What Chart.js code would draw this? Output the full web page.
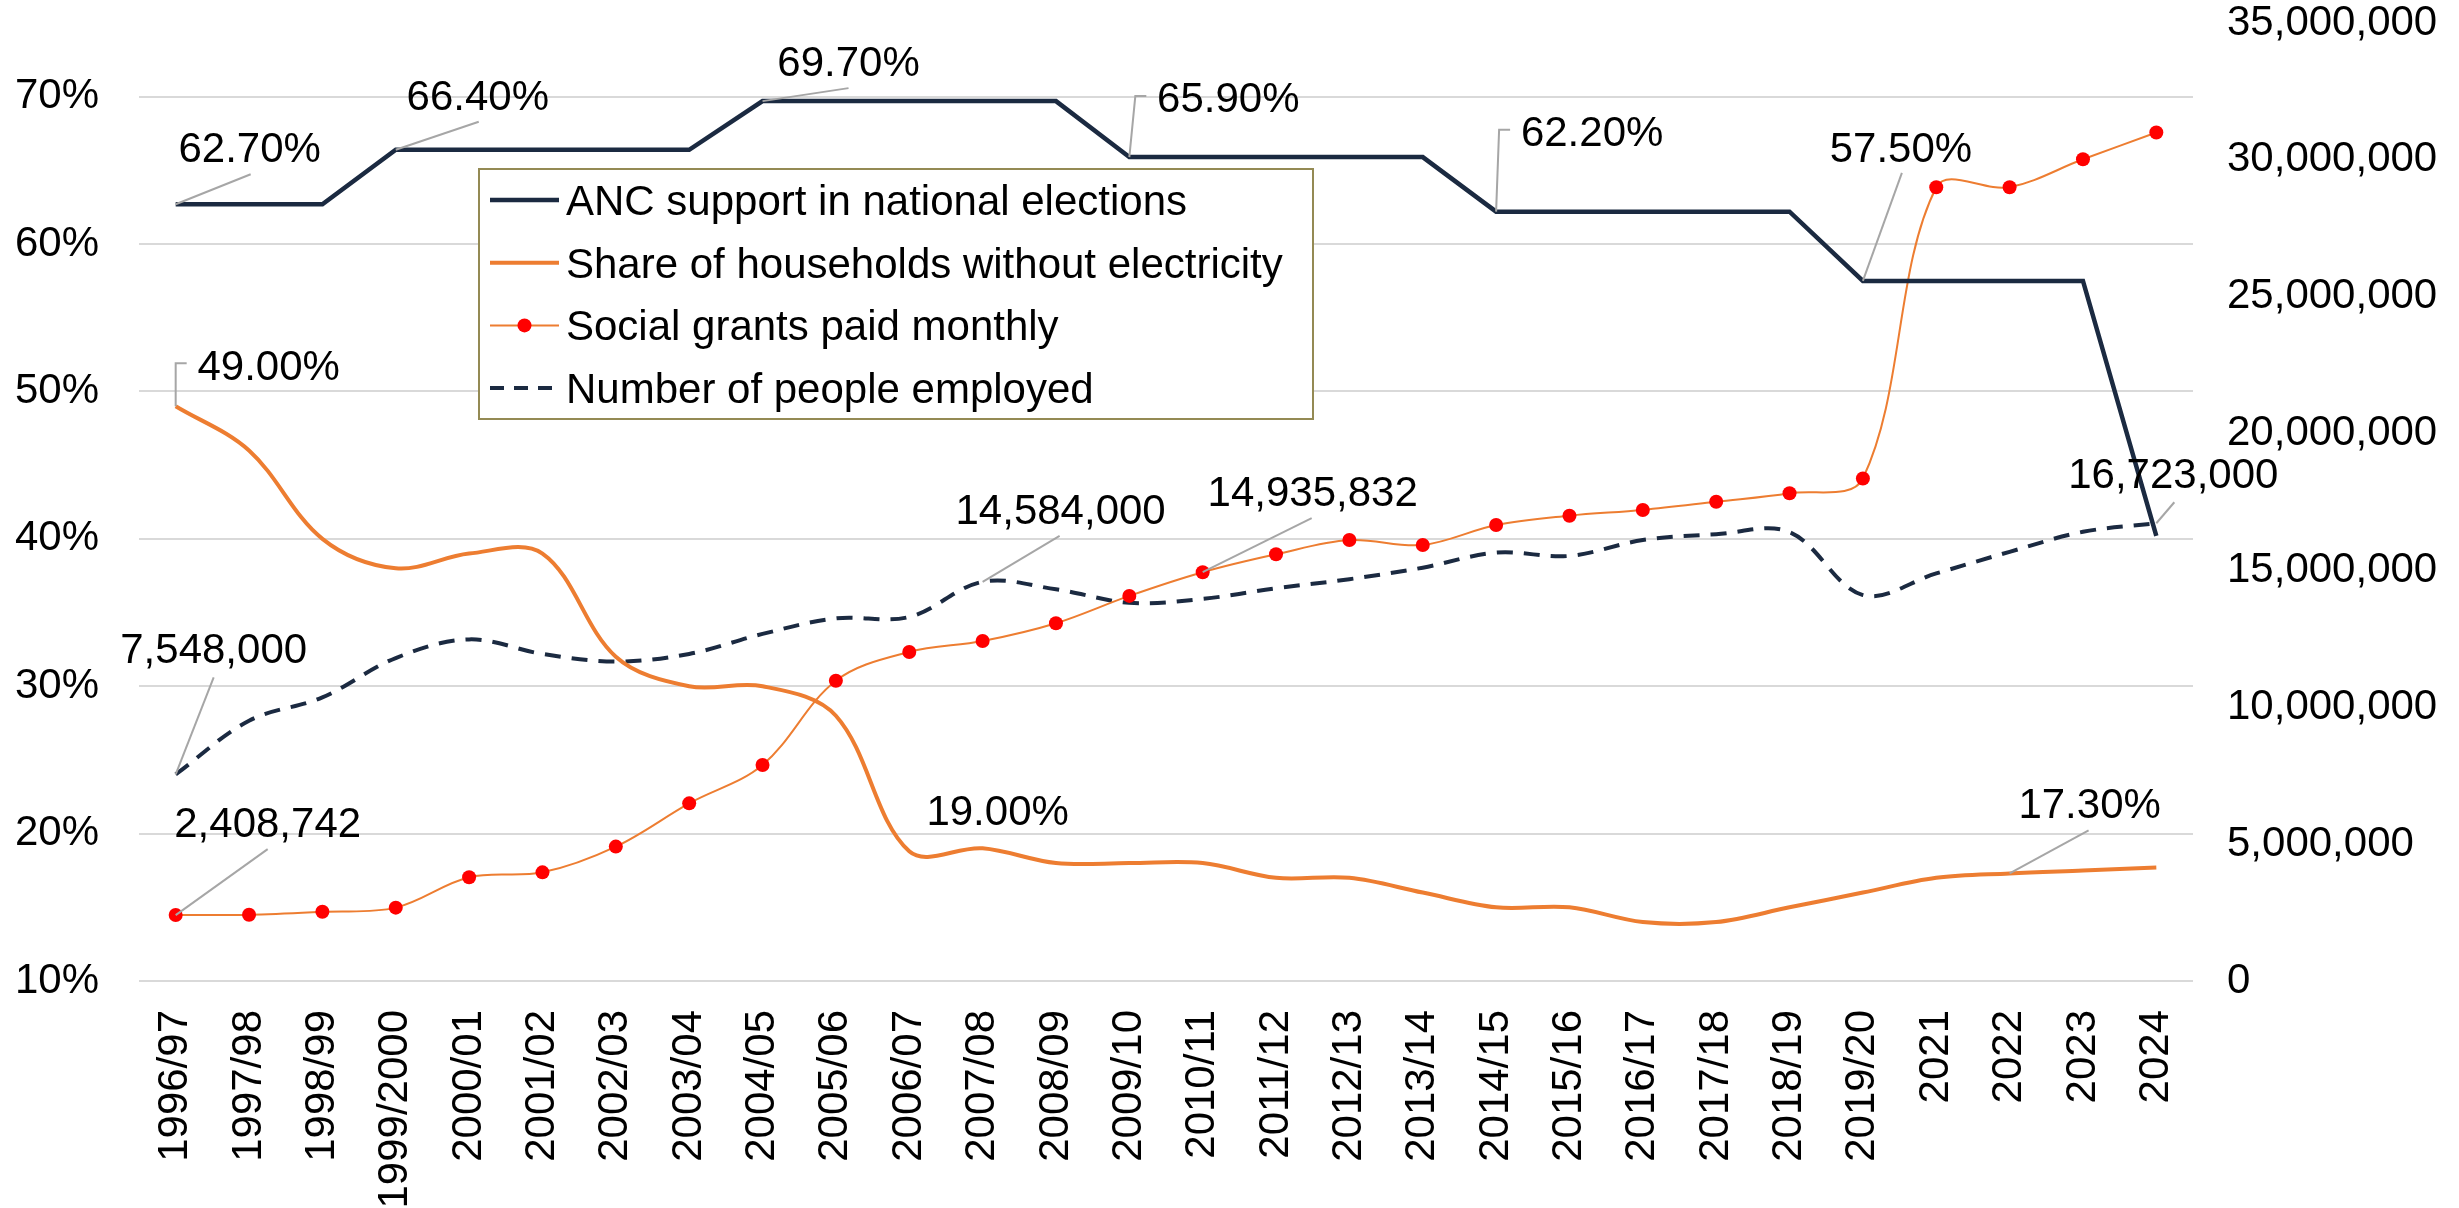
<!DOCTYPE html>
<html>
<head>
<meta charset="utf-8">
<title>ANC support, electricity, grants and employment</title>
<script src="https://cdn.jsdelivr.net/npm/chart.js@4.4.1/dist/chart.umd.min.js"></script>
<style>
    html, body { margin: 0; padding: 0; background: #ffffff; }
    #wrap { width: 2459px; height: 1208px; }
</style>
</head>
<body>
<div id="wrap"><canvas id="mainChart" width="2459" height="1208"></canvas></div>
<script>
// Categories
const years = ['1996/97', '1997/98', '1998/99', '1999/2000', '2000/01', '2001/02', '2002/03',
    '2003/04', '2004/05', '2005/06', '2006/07', '2007/08', '2008/09', '2009/10', '2010/11',
    '2011/12', '2012/13', '2013/14', '2014/15', '2015/16', '2016/17', '2017/18', '2018/19',
    '2019/20', '2021', '2022', '2023', '2024'];

// Left axis series (percent)
const ancSupport = [62.7, 62.7, 62.7, 66.4, 66.4, 66.4, 66.4, 66.4, 69.7, 69.7, 69.7, 69.7, 69.7,
    65.9, 65.9, 65.9, 65.9, 65.9, 62.2, 62.2, 62.2, 62.2, 62.2, 57.5, 57.5, 57.5, 57.5, 40.2];
const noElectricity = [49.0, 46.0, 40.0, 38.0, 39.0, 39.0, 32.0, 30.0, 30.0, 28.0, 18.8, 19.0, 18.0,
    18.0, 18.0, 17.0, 17.0, 16.0, 15.0, 15.0, 14.0, 14.0, 15.0, 16.0, 17.0, 17.3, 17.5, 17.7];

// Right axis series (people)
const socialGrants = [2408742, 2420000, 2530000, 2680000, 3790000, 3970000, 4910000, 6490000,
    7890000, 10970000, 12020000, 12420000, 13070000, 14070000, 14935832, 15590000, 16110000,
    15930000, 16660000, 17000000, 17210000, 17510000, 17820000, 18360000, 29000000, 29000000,
    30020000, 31000000];
const employed = [7548000, 9510000, 10360000, 11800000, 12480000, 11950000, 11670000, 11950000,
    12680000, 13250000, 13300000, 14584000, 14310000, 13820000, 13960000, 14350000, 14680000,
    15100000, 15650000, 15530000, 16110000, 16320000, 16400000, 14100000, 14890000, 15680000,
    16410000, 16723000];

// Axis ranges / steps
const leftAxis = { min: 10, max: 75, step: 10 };
const rightAxis = { min: 0, max: 35000000, step: 5000000 };

const FONT = "'Liberation Sans', Arial, sans-serif";
const NAVY = '#1B2A41';
const ORANGE = '#ED7D31';

Chart.defaults.font.family = FONT;
Chart.defaults.color = '#000000';

// Which points carry a value label, where the text sits relative to the point,
// and the leader line path (offsets from the point)
const pointLabels = [
    { ds: 0, i: 0, dx: 74, dy: -57, leader: [[75, -30]] },
    { ds: 0, i: 3, dx: 82, dy: -55, leader: [[83, -28]] },
    { ds: 0, i: 8, dx: 86, dy: -40, leader: [[86, -13]] },
    { ds: 0, i: 13, dx: 99, dy: -60, leader: [[6, -61], [17, -61]] },
    { ds: 0, i: 18, dx: 96, dy: -81, leader: [[3, -82], [14, -82]] },
    { ds: 0, i: 23, dx: 38, dy: -134, leader: [[39, -108]] },
    { ds: 1, i: 0, dx: 93, dy: -41, leader: [[0, -43], [11, -43]] },
    { ds: 1, i: 11, dx: 15, dy: -38, leader: [] },
    { ds: 1, i: 25, dx: 80, dy: -70, leader: [[79, -43]] },
    { ds: 2, i: 0, dx: 92, dy: -93, leader: [[92, -66]] },
    { ds: 2, i: 14, dx: 110, dy: -81, leader: [[109, -54]] },
    { ds: 3, i: 0, dx: 38, dy: -126, leader: [[38, -97]] },
    { ds: 3, i: 11, dx: 78, dy: -73, leader: [[77, -46]] },
    { ds: 3, i: 27, dx: 17, dy: -50, leader: [[18, -21]] }
];

function formatValue(ds, v) {
    if (ds.yAxisID === 'y') return v.toFixed(2) + '%';
    return v.toLocaleString('en-US');
}

const labelPlugin = {
    id: 'pointLabels',
    afterDatasetsDraw(chart) {
        const ctx = chart.ctx;
        ctx.save();
        pointLabels.forEach(function(lbl) {
            const ds = chart.data.datasets[lbl.ds];
            const el = chart.getDatasetMeta(lbl.ds).data[lbl.i];
            const px = el.x, py = el.y;
            if (lbl.leader.length) {
                ctx.beginPath();
                ctx.strokeStyle = '#A6A6A6';
                ctx.lineWidth = 2;
                ctx.setLineDash([]);
                ctx.moveTo(px, py);
                lbl.leader.forEach(p => ctx.lineTo(px + p[0], py + p[1]));
                ctx.stroke();
            }
            ctx.fillStyle = '#000000';
            ctx.font = '42px ' + FONT;
            ctx.textAlign = 'center';
            ctx.textBaseline = 'alphabetic';
            ctx.fillText(formatValue(ds, ds.data[lbl.i]), px + lbl.dx, py + lbl.dy + 15);
        });
        ctx.restore();
    }
};

// Legend box drawn inside the plot area
const legendPlugin = {
    id: 'boxLegend',
    afterDraw(chart) {
        const ctx = chart.ctx;
        const area = chart.chartArea;
        const bx = area.left + 340, by = area.top + 146, bw = 834, bh = 250;
        ctx.save();
        ctx.fillStyle = '#ffffff';
        ctx.fillRect(bx, by, bw, bh);
        ctx.strokeStyle = '#948A54';
        ctx.lineWidth = 2;
        ctx.strokeRect(bx, by, bw, bh);
        chart.data.datasets.forEach(function(ds, k) {
            const cy = by + 31 + k * 62.7;
            ctx.beginPath();
            ctx.strokeStyle = ds.borderColor;
            ctx.lineWidth = ds.borderWidth;
            ctx.setLineDash(ds.legendDash || []);
            ctx.moveTo(bx + 11, cy);
            ctx.lineTo(bx + 80, cy);
            ctx.stroke();
            ctx.setLineDash([]);
            if (ds.pointRadius > 0) {
                ctx.beginPath();
                ctx.fillStyle = ds.pointBackgroundColor;
                ctx.arc(bx + 45.5, cy, ds.pointRadius, 0, Math.PI * 2);
                ctx.fill();
            }
            ctx.fillStyle = '#000000';
            ctx.font = '42px ' + FONT;
            ctx.textAlign = 'left';
            ctx.textBaseline = 'alphabetic';
            ctx.fillText(ds.label, bx + 87, cy + 15);
        });
        ctx.restore();
    }
};

const ctx = document.getElementById('mainChart');
new Chart(ctx, {
    type: 'line',
    data: {
        labels: years,
        datasets: [{
            label: 'ANC support in national elections',
            data: ancSupport,
            yAxisID: 'y',
            borderColor: NAVY,
            borderWidth: 4.5,
            tension: 0,
            pointRadius: 0
        }, {
            label: 'Share of households without electricity',
            data: noElectricity,
            yAxisID: 'y',
            borderColor: ORANGE,
            borderWidth: 4,
            tension: 0.35,
            pointRadius: 0
        }, {
            label: 'Social grants paid monthly',
            data: socialGrants,
            yAxisID: 'y1',
            borderColor: ORANGE,
            borderWidth: 2,
            tension: 0.35,
            pointRadius: 7,
            pointBackgroundColor: '#FF0000',
            pointBorderWidth: 0
        }, {
            label: 'Number of people employed',
            data: employed,
            yAxisID: 'y1',
            borderColor: NAVY,
            borderWidth: 4,
            borderDash: [16, 11],
            legendDash: [14, 10],
            tension: 0.35,
            pointRadius: 0
        }]
    },
    options: {
        responsive: false,
        animation: false,
        devicePixelRatio: 1,
        layout: { padding: { top: 23, left: 0, right: 0, bottom: 0 } },
        plugins: {
            legend: { display: false },
            tooltip: { enabled: false }
        },
        scales: {
            x: {
                type: 'category',
                offset: true,
                border: { display: false },
                grid: { display: true, color: 'rgba(0,0,0,0)', drawOnChartArea: false,
                        drawTicks: true, tickLength: 29, tickColor: 'rgba(0,0,0,0)' },
                ticks: {
                    autoSkip: false,
                    minRotation: 90,
                    maxRotation: 90,
                    padding: 0,
                    color: '#000000',
                    font: { size: 42, family: FONT }
                },
                afterFit: function(scale) { scale.height = 227; }
            },
            y: {
                position: 'left',
                min: leftAxis.min,
                max: leftAxis.max,
                border: { display: false },
                grid: { color: '#D9D9D9', lineWidth: 2, drawTicks: true, tickLength: 40,
                        tickColor: 'rgba(0,0,0,0)' },
                ticks: {
                    stepSize: leftAxis.step,
                    includeBounds: false,
                    padding: 0,
                    color: '#000000',
                    font: { size: 42, family: FONT, lineHeight: 1 },
                    callback: function(value) { return value + '%'; }
                },
                afterFit: function(scale) { scale.width = 139; }
            },
            y1: {
                position: 'right',
                min: rightAxis.min,
                max: rightAxis.max,
                border: { display: false },
                grid: { display: true, drawOnChartArea: false, color: 'rgba(0,0,0,0)',
                        drawTicks: true, tickLength: 34, tickColor: 'rgba(0,0,0,0)' },
                ticks: {
                    stepSize: rightAxis.step,
                    padding: 0,
                    color: '#000000',
                    font: { size: 42, family: FONT, lineHeight: 1 },
                    callback: function(value) { return value.toLocaleString('en-US'); }
                },
                afterFit: function(scale) { scale.width = 266; }
            }
        }
    },
    plugins: [labelPlugin, legendPlugin]
});
</script>
</body>
</html>
